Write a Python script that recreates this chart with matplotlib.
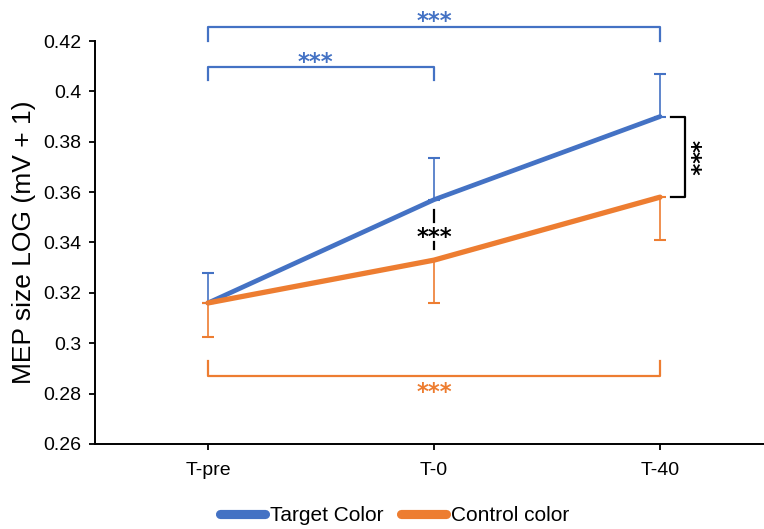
import matplotlib
matplotlib.use('Agg')
import matplotlib.pyplot as plt
from matplotlib.lines import Line2D

plt.rcParams['font.family'] = ['Liberation Sans', 'DejaVu Sans']

# MEP size per time point (log scale), one-sided error bars
timepoints = ['T-pre', 'T-0', 'T-40']
target_mean = [0.316, 0.357, 0.390]
target_err_up = [0.012, 0.0165, 0.017]
control_mean = [0.316, 0.333, 0.358]
control_err_down = [0.0135, 0.017, 0.017]

BLUE = '#4472C4'
ORANGE = '#ED7D31'

fig = plt.figure(figsize=(7.64, 5.29), dpi=100)
ax = fig.add_axes([95 / 764, 85 / 529, 669 / 764, 403 / 529])

x = list(range(len(timepoints)))

ax.errorbar(x, target_mean, yerr=[[0] * 3, target_err_up], fmt='none',
            ecolor=BLUE, elinewidth=1.2, capsize=4.5, capthick=1.5, zorder=2)
ax.errorbar(x, control_mean, yerr=[control_err_down, [0] * 3], fmt='none',
            ecolor=ORANGE, elinewidth=1.2, capsize=4.5, capthick=1.5, zorder=2)
ax.plot(x, target_mean, color=BLUE, lw=3.4, solid_capstyle='round', zorder=3)
ax.plot(x, control_mean, color=ORANGE, lw=3.8, solid_capstyle='round', zorder=4)

ax.set_xlim(-0.5, 2.46)
ax.set_ylim(0.26, 0.42)
ax.set_yticks([0.26, 0.28, 0.3, 0.32, 0.34, 0.36, 0.38, 0.4, 0.42])
ax.set_yticklabels(['0.26', '0.28', '0.3', '0.32', '0.34', '0.36', '0.38', '0.4', '0.42'])
ax.set_xticks(x)
ax.set_xticklabels(timepoints)
ax.tick_params(axis='both', labelsize=14, width=1.3, length=4, direction='out')
ax.tick_params(axis='y', pad=6)
ax.tick_params(axis='x', pad=9)
for side in ['top', 'right']:
    ax.spines[side].set_visible(False)
for side in ['left', 'bottom']:
    ax.spines[side].set_linewidth(1.4)
ax.set_ylabel('MEP size LOG (mV + 1)', fontsize=19, labelpad=5)

STAR_FONT = ['DejaVu Sans']
STAR_SIZE = 16.5


def bracket(x0, x1, y_bar, y_end, color):
    ax.plot([x0, x0, x1, x1], [y_end, y_bar, y_bar, y_end], color=color,
            lw=1.6, clip_on=False, zorder=5)


def stars(xc, yc, color, rotation=0, dx=0):
    # place the glyph centre (not the text box) at (xc, yc)
    if rotation == 0:
        ax.annotate('***', xy=(xc, yc), xytext=(0, -0.6 * STAR_SIZE), textcoords='offset points',
                    ha='center', va='baseline', fontsize=STAR_SIZE, color=color,
                    family=STAR_FONT, fontweight='bold', annotation_clip=False)
    else:
        ax.annotate('***', xy=(xc, yc), xytext=(dx, 0), textcoords='offset points',
                    ha='center', va='center', fontsize=STAR_SIZE, color=color,
                    family=STAR_FONT, fontweight='bold', rotation=rotation,
                    annotation_clip=False)


# within-condition comparisons
bracket(0, 2, 0.4257, 0.4200, BLUE)
stars(1.0, 0.4305, BLUE)
bracket(0, 1, 0.4098, 0.4045, BLUE)
stars(0.475, 0.4145, BLUE)
bracket(0, 2, 0.2870, 0.2930, ORANGE)
stars(1.0, 0.2833, ORANGE)

# between-condition comparisons
ax.plot([2.05, 2.11, 2.11, 2.05], [target_mean[2], target_mean[2], control_mean[2], control_mean[2]],
        color='black', lw=1.6, clip_on=False, zorder=5)
stars(2.15, 0.3735, 'black', rotation=270, dx=-3)
ax.plot([1.0, 1.0], [0.3529, 0.3481], color='black', lw=1.6, zorder=5)
ax.plot([1.0, 1.0], [0.3402, 0.3374], color='black', lw=1.6, zorder=5)
stars(1.0, 0.3449, 'black')

handles = [Line2D([], [], color=BLUE, lw=6.6, solid_capstyle='round'),
           Line2D([], [], color=ORANGE, lw=6.6, solid_capstyle='round')]
fig.legend(handles, ['Target Color', 'Control color'], loc='center',
           bbox_to_anchor=(0.517, 0.025), ncol=2, frameon=False, fontsize=15,
           handlelength=2.15, handletextpad=0.25, columnspacing=0.85)

fig.savefig('out.png', dpi=100)
